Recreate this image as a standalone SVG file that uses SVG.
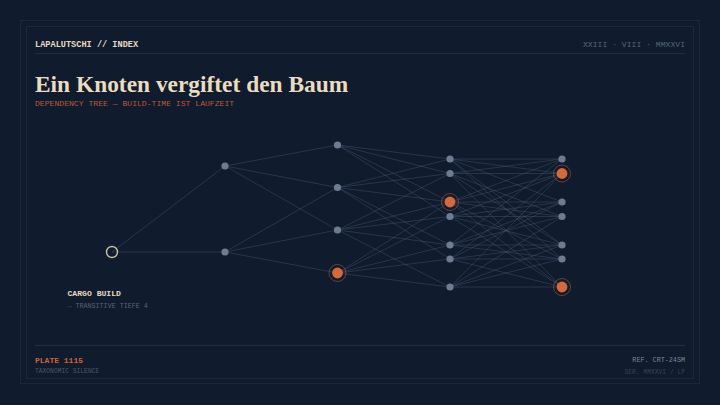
<svg xmlns="http://www.w3.org/2000/svg" width="720" height="405" viewBox="0 0 720 405">
<style>
.mono{font-family:"Liberation Mono","DejaVu Sans Mono",monospace}
.serif{font-family:"Liberation Serif","DejaVu Serif",serif}
.e{stroke:#55637d;stroke-width:0.7;stroke-opacity:0.5;fill:none}
.n{fill:#6e7c93}
.o{fill:#d4693e}
.ring{fill:none;stroke:#d4693e;stroke-opacity:0.45;stroke-width:1}
.rule{stroke:#1f2c42;stroke-width:1}
</style>
<rect width="720" height="405" fill="#101b2d"/>
<rect x="20.5" y="20.5" width="679" height="363" fill="none" stroke="#1a2639" stroke-width="1"/>
<rect x="26.5" y="26.5" width="667" height="352" fill="none" stroke="#1c293d" stroke-width="1"/>
<line class="rule" x1="35" y1="53.5" x2="685" y2="53.5"/>
<line class="rule" x1="35" y1="345.5" x2="685" y2="345.5"/>
<text class="mono" x="35" y="47" font-size="8.6" font-weight="bold" fill="#e6dac3">LAPALUTSCHI // INDEX</text>
<text class="mono" x="685" y="46.5" font-size="8.1" fill="#56647a" text-anchor="end">XXIII · VIII · MMXXVI</text>
<text class="serif" x="35" y="92" font-size="23.4" font-weight="bold" fill="#eadcc1">Ein Knoten vergiftet den Baum</text>
<text class="mono" x="35" y="105.5" font-size="8.1" fill="#b85a38">DEPENDENCY TREE — BUILD-TIME IST LAUFZEIT</text>
<g id="connectors">
<line class="e" x1="112" y1="252" x2="225" y2="166"/>
<line class="e" x1="112" y1="252" x2="225" y2="252"/>
<line class="e" x1="225" y1="166" x2="337.5" y2="145"/>
<line class="e" x1="225" y1="166" x2="337.5" y2="187.5"/>
<line class="e" x1="225" y1="166" x2="337.5" y2="230"/>
<line class="e" x1="225" y1="252" x2="337.5" y2="187.5"/>
<line class="e" x1="225" y1="252" x2="337.5" y2="230"/>
<line class="e" x1="225" y1="252" x2="337.5" y2="273"/>
<line class="e" x1="337.5" y1="145" x2="450" y2="159"/>
<line class="e" x1="337.5" y1="145" x2="450" y2="173.5"/>
<line class="e" x1="337.5" y1="145" x2="450" y2="202"/>
<line class="e" x1="337.5" y1="145" x2="450" y2="216.5"/>
<line class="e" x1="337.5" y1="187.5" x2="450" y2="159"/>
<line class="e" x1="337.5" y1="187.5" x2="450" y2="173.5"/>
<line class="e" x1="337.5" y1="187.5" x2="450" y2="202"/>
<line class="e" x1="337.5" y1="187.5" x2="450" y2="245"/>
<line class="e" x1="337.5" y1="187.5" x2="450" y2="259"/>
<line class="e" x1="337.5" y1="230" x2="450" y2="173.5"/>
<line class="e" x1="337.5" y1="230" x2="450" y2="202"/>
<line class="e" x1="337.5" y1="230" x2="450" y2="216.5"/>
<line class="e" x1="337.5" y1="230" x2="450" y2="245"/>
<line class="e" x1="337.5" y1="230" x2="450" y2="287"/>
<line class="e" x1="337.5" y1="273" x2="450" y2="202"/>
<line class="e" x1="337.5" y1="273" x2="450" y2="216.5"/>
<line class="e" x1="337.5" y1="273" x2="450" y2="245"/>
<line class="e" x1="337.5" y1="273" x2="450" y2="259"/>
<line class="e" x1="337.5" y1="273" x2="450" y2="287"/>
<line class="e" x1="450" y1="159" x2="562" y2="159"/>
<line class="e" x1="450" y1="159" x2="562" y2="173.5"/>
<line class="e" x1="450" y1="159" x2="562" y2="202"/>
<line class="e" x1="450" y1="159" x2="562" y2="245"/>
<line class="e" x1="450" y1="159" x2="562" y2="259"/>
<line class="e" x1="450" y1="173.5" x2="562" y2="159"/>
<line class="e" x1="450" y1="173.5" x2="562" y2="173.5"/>
<line class="e" x1="450" y1="173.5" x2="562" y2="216.5"/>
<line class="e" x1="450" y1="173.5" x2="562" y2="245"/>
<line class="e" x1="450" y1="173.5" x2="562" y2="287"/>
<line class="e" x1="450" y1="202" x2="562" y2="159"/>
<line class="e" x1="450" y1="202" x2="562" y2="173.5"/>
<line class="e" x1="450" y1="202" x2="562" y2="202"/>
<line class="e" x1="450" y1="202" x2="562" y2="216.5"/>
<line class="e" x1="450" y1="202" x2="562" y2="259"/>
<line class="e" x1="450" y1="202" x2="562" y2="287"/>
<line class="e" x1="450" y1="216.5" x2="562" y2="173.5"/>
<line class="e" x1="450" y1="216.5" x2="562" y2="202"/>
<line class="e" x1="450" y1="216.5" x2="562" y2="216.5"/>
<line class="e" x1="450" y1="216.5" x2="562" y2="245"/>
<line class="e" x1="450" y1="216.5" x2="562" y2="287"/>
<line class="e" x1="450" y1="245" x2="562" y2="159"/>
<line class="e" x1="450" y1="245" x2="562" y2="202"/>
<line class="e" x1="450" y1="245" x2="562" y2="216.5"/>
<line class="e" x1="450" y1="245" x2="562" y2="245"/>
<line class="e" x1="450" y1="245" x2="562" y2="259"/>
<line class="e" x1="450" y1="259" x2="562" y2="173.5"/>
<line class="e" x1="450" y1="259" x2="562" y2="202"/>
<line class="e" x1="450" y1="259" x2="562" y2="245"/>
<line class="e" x1="450" y1="259" x2="562" y2="259"/>
<line class="e" x1="450" y1="259" x2="562" y2="287"/>
<line class="e" x1="450" y1="287" x2="562" y2="173.5"/>
<line class="e" x1="450" y1="287" x2="562" y2="216.5"/>
<line class="e" x1="450" y1="287" x2="562" y2="245"/>
<line class="e" x1="450" y1="287" x2="562" y2="259"/>
<line class="e" x1="450" y1="287" x2="562" y2="287"/>
</g>
<g id="root"><circle cx="112" cy="252" r="5.5" fill="none" stroke="#c9bda6" stroke-width="1.4"/></g>
<g id="n1a"><circle class="n" cx="225" cy="166" r="3.6"/></g>
<g id="n1b"><circle class="n" cx="225" cy="252" r="3.6"/></g>
<g id="n2a"><circle class="n" cx="337.5" cy="145" r="3.6"/></g>
<g id="n2b"><circle class="n" cx="337.5" cy="187.5" r="3.6"/></g>
<g id="n2c"><circle class="n" cx="337.5" cy="230" r="3.6"/></g>
<g id="n2d"><circle class="ring" cx="337.5" cy="273" r="8.5"/><circle class="o" cx="337.5" cy="273" r="5.4"/></g>
<g id="n3a"><circle class="n" cx="450" cy="159" r="3.6"/></g>
<g id="n3b"><circle class="n" cx="450" cy="173.5" r="3.6"/></g>
<g id="n3c"><circle class="ring" cx="450" cy="202" r="8.5"/><circle class="o" cx="450" cy="202" r="5.4"/></g>
<g id="n3d"><circle class="n" cx="450" cy="216.5" r="3.6"/></g>
<g id="n3e"><circle class="n" cx="450" cy="245" r="3.6"/></g>
<g id="n3f"><circle class="n" cx="450" cy="259" r="3.6"/></g>
<g id="n3g"><circle class="n" cx="450" cy="287" r="3.6"/></g>
<g id="n4a"><circle class="n" cx="562" cy="159" r="3.6"/></g>
<g id="n4b"><circle class="ring" cx="562" cy="173.5" r="8.5"/><circle class="o" cx="562" cy="173.5" r="5.4"/></g>
<g id="n4c"><circle class="n" cx="562" cy="202" r="3.6"/></g>
<g id="n4d"><circle class="n" cx="562" cy="216.5" r="3.6"/></g>
<g id="n4e"><circle class="n" cx="562" cy="245" r="3.6"/></g>
<g id="n4f"><circle class="n" cx="562" cy="259" r="3.6"/></g>
<g id="n4g"><circle class="ring" cx="562" cy="287" r="8.5"/><circle class="o" cx="562" cy="287" r="5.4"/></g>
<g id="label">
<text class="mono" x="67.5" y="296" font-size="8.1" font-weight="bold" fill="#e6dac3">CARGO BUILD</text>
<text class="mono" x="67.5" y="307.5" font-size="6.7" fill="#56647a">→ TRANSITIVE TIEFE 4</text>
</g>
<text class="mono" x="35" y="362.5" font-size="8" font-weight="bold" fill="#cc6339">PLATE 1115</text>
<text class="mono" x="35" y="372.5" font-size="6.3" fill="#4b586c">TAXONOMIC SILENCE</text>
<text class="mono" x="685" y="362" font-size="6.75" fill="#7a8698" text-anchor="end">REF. CRT-24SM</text>
<text class="mono" x="685" y="373.5" font-size="6.3" fill="#35425a" text-anchor="end">SER. MMXXVI / LP</text>
</svg>
